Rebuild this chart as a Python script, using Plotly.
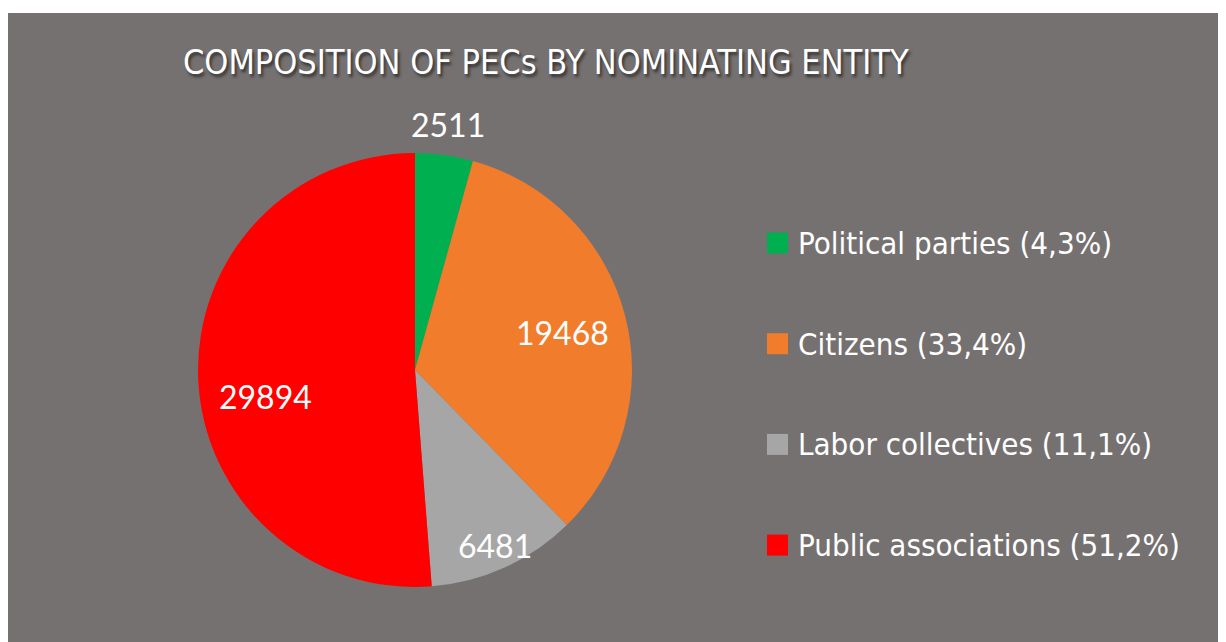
import math
import plotly.graph_objects as go

# ---- data ----
categories = ["Political parties", "Citizens", "Labor collectives", "Public associations"]
values = [2511, 19468, 6481, 29894]
share_labels = ["4,3%", "33,4%", "11,1%", "51,2%"]
title_text = "COMPOSITION OF PECs BY NOMINATING ENTITY"

# ---- style ----
colors = ["#00B050", "#F07C2C", "#A6A6A6", "#FF0000"]
BG = "#767171"
W, H = 1218, 634          # figure size (page body margin of 8px adds the offset)
OFF = 8
COND = "DejaVu Sans Condensed, Liberation Sans Narrow, sans-serif"

def px(X):
    return (X - OFF) / W

def py(Y):
    return 1 - (Y - OFF) / H

cx, cy, R = 415, 370, 217
label_radius = [1.14, 0.70, 0.89, 0.70]
label_angle_shift = [0, 0, 0, -8]   # degrees, label placement tweak

fig = go.Figure()
fig.add_trace(go.Pie(
    labels=categories,
    values=values,
    sort=False,
    direction="clockwise",
    rotation=0,
    marker=dict(colors=colors, line=dict(width=0)),
    textinfo="none",
    hoverinfo="label+value+percent",
    showlegend=False,
    domain=dict(x=[px(cx - R), px(cx + R)], y=[py(cy + R), py(cy - R)]),
))

annotations = []
total = sum(values)
cum = 0
for i, v in enumerate(values):
    mid = (cum + v / 2) / total * 2 * math.pi + math.radians(label_angle_shift[i])
    cum += v
    r = R * label_radius[i]
    X = cx + r * math.sin(mid)
    Y = cy - r * math.cos(mid)
    annotations.append(dict(
        x=px(X), y=py(Y), xref="paper", yref="paper", text=str(v), showarrow=False,
        font=dict(family="Lato, Open Sans, sans-serif", size=32, color="white"),
        xanchor="center", yanchor="middle",
    ))

# title
annotations.append(dict(
    x=px(546), y=py(62), xref="paper", yref="paper", text=title_text, showarrow=False,
    font=dict(family=COND, size=34, color="white", shadow="2px 3px 3px #333333"),
    xanchor="center", yanchor="middle",
))

# custom legend
shapes = [dict(type="rect", xref="paper", yref="paper", x0=0, x1=1, y0=0, y1=py(13),
               fillcolor=BG, line=dict(width=0), layer="below")]
leg_y0, leg_step = 243, 100.7
for i, (c, s) in enumerate(zip(categories, share_labels)):
    yc = leg_y0 + i * leg_step
    shapes.append(dict(type="rect", xref="paper", yref="paper",
                       x0=px(767), x1=px(788), y0=py(yc + 10.5), y1=py(yc - 10.5),
                       fillcolor=colors[i], line=dict(width=0)))
    annotations.append(dict(
        x=px(796), y=py(yc), xref="paper", yref="paper", text=f"{c} ({s})", showarrow=False,
        font=dict(family=COND, size=31, color="white"),
        xanchor="left", yanchor="middle",
    ))

fig.update_layout(
    width=W, height=H,
    margin=dict(l=0, r=0, t=0, b=0),
    paper_bgcolor="white",
    plot_bgcolor=BG,
    shapes=shapes,
    annotations=annotations,
)

fig.write_html("out.html")
